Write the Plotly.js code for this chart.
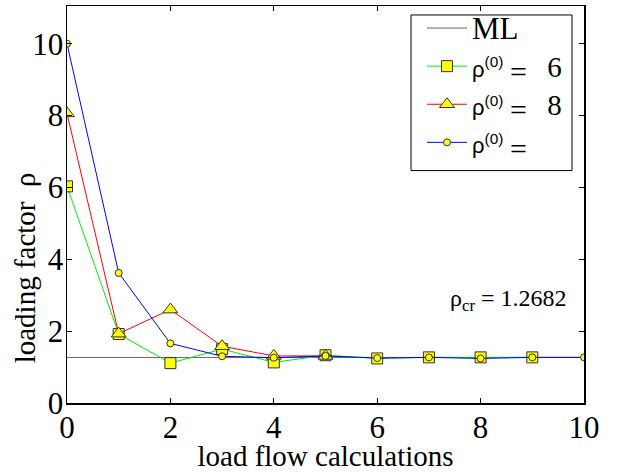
<!DOCTYPE html>
<html><head><meta charset="utf-8">
<script src="https://cdn.plot.ly/plotly-3.0.1.min.js"></script>
<style>body{margin:0}</style></head>
<body><div id="c" style="width:617px;height:472px"></div>
<script>
const iterations = [0,1,2,3,4,5,6,7,8,9,10];
const rho6 = [6.03,1.92,1.11,1.50,1.13,1.33,1.24,1.27,1.27,1.27];
const rho8 = [8.06,1.93,2.60,1.58,1.31,1.31];
const rho10 = [10.0,3.62,1.66,1.30,1.26,1.31,1.25,1.27,1.24,1.27,1.27];
const rhoCr = 1.2682;
const mlX = [0,10];

const serif = '"Liberation Serif", "Times New Roman", serif';
function lg(v){
  return '<span style="font-family:Liberation Sans;font-size:22px">ρ<sup>(0)</sup></span>\u00A0<sub><span style="font-size:30px">=</span></sub>\u00A0\u00A0\u00A0<span style="font-size:29px">' + v + '</span>';
}
const traces = [
  {x: mlX, y: mlX.map(()=>rhoCr), mode:'lines', name:'<span style="font-size:31px">ML</span>', line:{color:'#666666', width:1}},
  {x: iterations.slice(0,rho6.length), y: rho6, mode:'lines+markers', name: lg('6'),
   line:{color:'#00ee00', width:1}, marker:{symbol:'square', size:11, color:'#ffff00', line:{color:'#333', width:1}}},
  {x: iterations.slice(0,rho8.length), y: rho8, mode:'lines+markers', name: lg('8'),
   line:{color:'#ff0000', width:1}, marker:{symbol:'triangle-up', size:13, color:'#ffff00', line:{color:'#333', width:1}}},
  {x: iterations.slice(0,rho10.length), y: rho10, mode:'lines+markers', name: lg(''),
   line:{color:'#0000ff', width:1}, marker:{symbol:'circle', size:7, color:'#ffff00', line:{color:'#333', width:1}}}
];
const layout = {
  width:617, height:472,
  margin:{l:67, r:33, t:5, b:69},
  paper_bgcolor:'white', plot_bgcolor:'white',
  font:{family:serif, color:'#000'},
  showlegend:true,
  legend:{x:(422-67)/517, y:(403-4)/398, xanchor:'left', yanchor:'top', bgcolor:'rgba(0,0,0,0)', borderwidth:0,
    font:{family:serif, size:27}, tracegroupgap:0, itemwidth:40},
  shapes:[{type:'rect', xref:'paper', yref:'paper', x0:(411-67)/517, x1:(572-67)/517, y0:(403-170)/398, y1:(403-14)/398,
    line:{color:'#000', width:1}, fillcolor:'white', layer:'above'}],
  xaxis:{range:[0,10], tickvals:[0,2,4,6,8,10], ticks:'inside', ticklen:5, tickcolor:'#000', mirror:'ticks',
    showline:true, linecolor:'#000', linewidth:1.5, showgrid:false, zeroline:false,
    tickfont:{family:serif, size:31}, ticklabelstandoff:-4,
    title:{text:'load flow calculations', font:{family:serif, size:29}, standoff:5}},
  yaxis:{range:[0,11.05], tickvals:[0,2,4,6,8,10], ticks:'inside', ticklen:5, tickcolor:'#000', mirror:'ticks',
    showline:true, linecolor:'#000', linewidth:1.5, showgrid:false, zeroline:false,
    tickfont:{family:serif, size:31}, ticklabelstandoff:-4},
  annotations:[
    {xref:'paper', yref:'paper', x:(569-67)/517, y:(403-300)/398, xanchor:'right', yanchor:'middle', showarrow:false,
     text:'ρ<sub>cr</sub> = 1.2682', font:{family:serif, size:24}},
    {xref:'paper', yref:'paper', x:(25-67)/517, y:(403-268)/398, xanchor:'center', yanchor:'middle', showarrow:false,
     textangle:-90, text:'loading factor  ρ', font:{family:serif, size:29}}
  ]
};
Plotly.newPlot('c', traces, layout, {displayModeBar:false, staticPlot:true});
</script></body></html>
